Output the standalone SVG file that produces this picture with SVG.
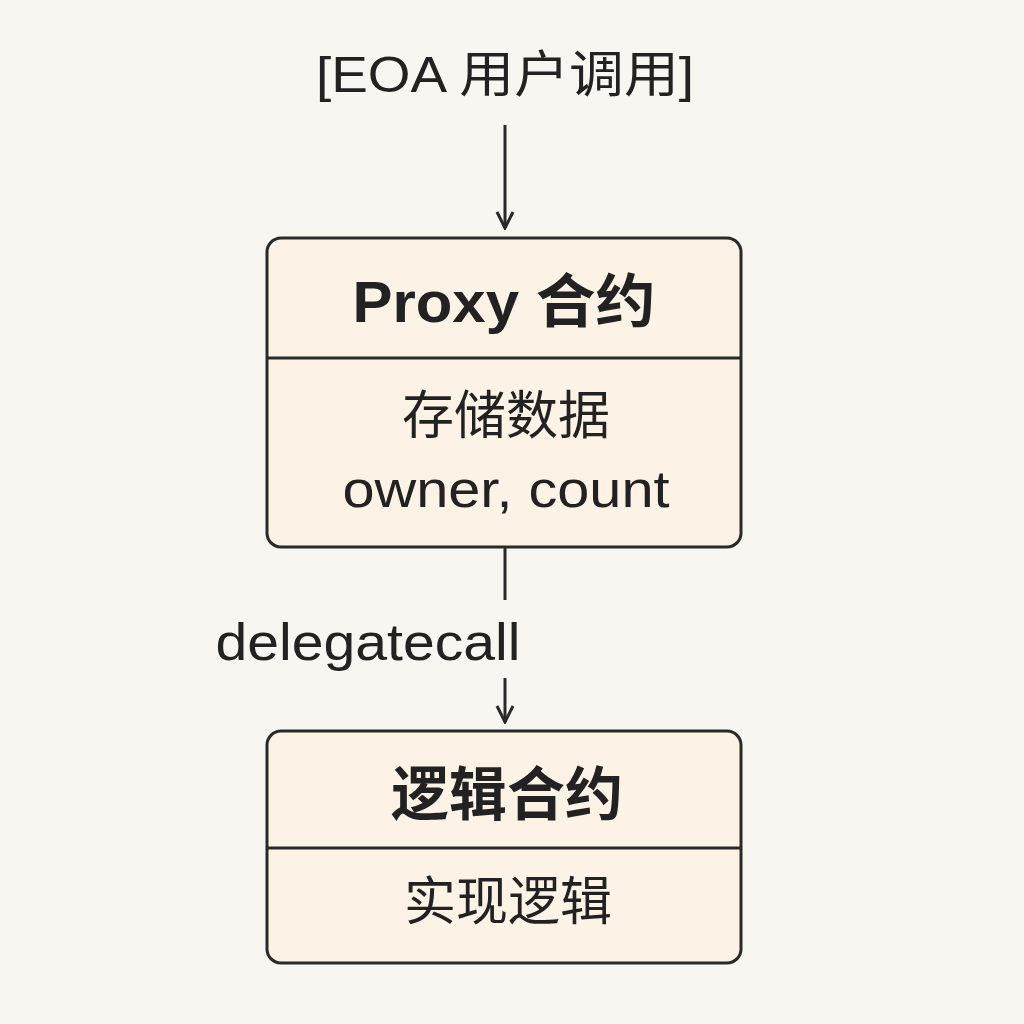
<svg xmlns="http://www.w3.org/2000/svg" width="1024" height="1024" viewBox="0 0 1024 1024">
<style>
.t{font-family:"Liberation Sans","Noto Sans CJK SC",sans-serif;fill:#222;text-anchor:middle}
.box{fill:#fcf2e6;stroke:#2a2a2a;stroke-width:3}
.ln{stroke:#2a2a2a;stroke-width:3;fill:none}
</style>
<defs><marker id="ah" viewBox="0 0 20 20" refX="18" refY="10" markerWidth="20" markerHeight="20" markerUnits="userSpaceOnUse" orient="auto"><path d="M2,2 L18,10 L2,18" fill="none" stroke="#2a2a2a" stroke-width="3"/></marker></defs>
<rect width="1024" height="1024" fill="#f7f6f1"/>
<g id="eoa"><text class="t" x="505" y="92" font-size="50" textLength="378" lengthAdjust="spacingAndGlyphs">[EOA 用户调用]</text></g>
<g id="proxy">
<rect class="box" x="267" y="238" width="474" height="309" rx="14"/>
<line class="ln" x1="267" y1="358" x2="741" y2="358"/>
<text class="t" x="504" y="322" font-size="58" font-weight="bold" textLength="303" lengthAdjust="spacingAndGlyphs">Proxy 合约</text>
<text class="t" x="506" y="434" font-size="52">存储数据</text>
<text class="t" x="506" y="507" font-size="52" textLength="327" lengthAdjust="spacingAndGlyphs">owner, count</text>
</g>
<g id="logic">
<rect class="box" x="267" y="731" width="474" height="232" rx="14"/>
<line class="ln" x1="267" y1="848" x2="741" y2="848"/>
<text class="t" x="507" y="815" font-size="58" font-weight="bold">逻辑合约</text>
<text class="t" x="508" y="920" font-size="52">实现逻辑</text>
</g>
<g id="connectors">
<line class="ln" x1="505" y1="125" x2="505" y2="228" marker-end="url(#ah)"/>
<line class="ln" x1="505" y1="547" x2="505" y2="600"/>
<line class="ln" x1="505" y1="678" x2="505" y2="722" marker-end="url(#ah)"/>
<text class="t" x="368" y="660" font-size="52" textLength="305" lengthAdjust="spacingAndGlyphs">delegatecall</text>
</g>
</svg>
